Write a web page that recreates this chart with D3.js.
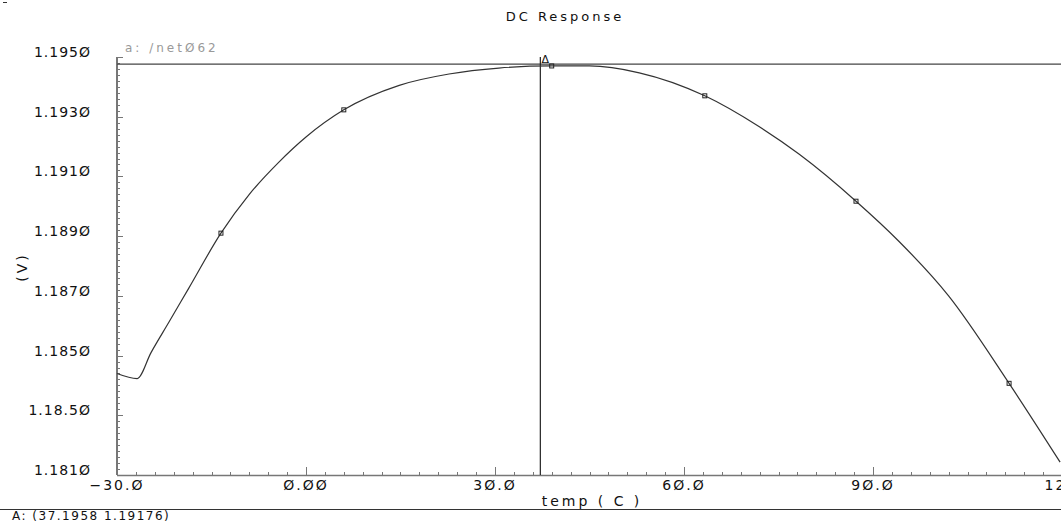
<!DOCTYPE html>
<html>
<head>
<meta charset="utf-8">
<script src="https://cdn.jsdelivr.net/npm/d3@7"></script>
<style>
  body { margin: 0; background: #fff; }
  text { font-family: "DejaVu Sans", sans-serif; fill: #111; }
</style>
</head>
<body>
<svg id="chart" width="1061" height="523"></svg>
<script>
// Curve: temperature (C) vs voltage (V)
let temps = [-30, -26.8, -24.6, -21.7, -18.6, -13.5, -9, -4.3, 0, 6, 14.8, 22.7, 30.6, 39, 45, 52.9, 63.3, 71.9, 78.3, 87.3, 94.1, 102, 111.6, 119.7];
let volts = [1.1844, 1.18423, 1.1851, 1.18614, 1.18726, 1.1891, 1.1904, 1.19148, 1.19232, 1.19323, 1.19405, 1.19443, 1.19463, 1.1947, 1.1947, 1.19447, 1.1937, 1.19267, 1.19174, 1.19017, 1.18883, 1.1870, 1.18407, 1.18143];

// Small square markers along the trace
let markerTemps = [-13.5, 6, 39, 63.3, 87.3, 111.6];
let markerVolts = [1.1891, 1.19323, 1.1947, 1.1937, 1.19017, 1.18407];

// Tick labels as printed (slashed zeros)
let yTicks = [1.1810, 1.1830, 1.1850, 1.1870, 1.1890, 1.1910, 1.1930, 1.1950];
let yTickLabels = ["1.181Ø", "1.18.5Ø", "1.185Ø", "1.187Ø", "1.189Ø", "1.191Ø", "1.193Ø", "1.195Ø"];
let xTicks = [-30, 0, 30, 60, 90, 120];
let xTickLabels = ["\u221230.Ø", "Ø.ØØ", "3Ø.Ø", "6Ø.Ø", "9Ø.Ø", "12Ø"];

// Cursor A
let cursorT = 37.1958, cursorV = 1.19476;

let svg = d3.select("#chart");

let x = d3.scaleLinear().domain([-30, 120]).range([117, 1062]);
let y = d3.scaleLinear().domain([1.1810, 1.1950]).range([475, 57]);

let axisColor = "#777";

// Y axis line and ticks
svg.append("line")
    .attr("x1", x(-30)).attr("x2", x(-30))
    .attr("y1", y(1.1950)).attr("y2", y(1.1810))
    .attr("stroke", axisColor).attr("stroke-width", 2);

let yMinor = d3.range(0, 71).map(i => 1.1810 + i * 0.0002);
svg.append("g").selectAll("line")
    .data(yMinor)
    .enter().append("line")
    .attr("x1", x(-30))
    .attr("x2", (d, i) => x(-30) + (i % 10 === 0 ? 6 : 3))
    .attr("y1", d => Math.round(y(d)) + 0.5)
    .attr("y2", d => Math.round(y(d)) + 0.5)
    .attr("stroke", axisColor).attr("stroke-width", 1);

svg.append("g").selectAll("text")
    .data(yTicks)
    .enter().append("text")
    .attr("x", 91)
    .attr("y", d => y(d))
    .attr("text-anchor", "end")
    .attr("font-size", 14)
    .attr("letter-spacing", 1)
    .text((d, i) => yTickLabels[i]);

// X axis line and ticks
svg.append("line")
    .attr("x1", x(-30)).attr("x2", 1061)
    .attr("y1", y(1.1810) + 0.5).attr("y2", y(1.1810) + 0.5)
    .attr("stroke", axisColor).attr("stroke-width", 1.5);

let xMinor = d3.range(0, 51).map(i => -30 + i * 3);
svg.append("g").selectAll("line")
    .data(xMinor)
    .enter().append("line")
    .attr("x1", d => Math.round(x(d)) + 0.5)
    .attr("x2", d => Math.round(x(d)) + 0.5)
    .attr("y1", y(1.1810))
    .attr("y2", (d, i) => y(1.1810) - (i % 10 === 0 ? 8 : 3))
    .attr("stroke", axisColor).attr("stroke-width", 1);

svg.append("g").selectAll("text")
    .data(xTicks)
    .enter().append("text")
    .attr("x", d => x(d))
    .attr("y", 490)
    .attr("text-anchor", "middle")
    .attr("font-size", 14)
    .attr("letter-spacing", 2)
    .text((d, i) => xTickLabels[i]);

// Cursor lines
svg.append("line")
    .attr("x1", x(-30)).attr("x2", 1061)
    .attr("y1", y(cursorV)).attr("y2", y(cursorV))
    .attr("stroke", "#444").attr("stroke-width", 1.2);
svg.append("line")
    .attr("x1", x(cursorT)).attr("x2", x(cursorT))
    .attr("y1", y(1.1950)).attr("y2", y(1.1810))
    .attr("stroke", "#222").attr("stroke-width", 1.2);
svg.append("text")
    .attr("x", x(cursorT) + 5).attr("y", y(cursorV) - 1)
    .attr("text-anchor", "middle")
    .attr("font-size", 11)
    .text("Δ");

// Trace
let line = d3.line()
    .x((d, i) => x(temps[i]))
    .y(d => y(d))
    .curve(d3.curveMonotoneX);
svg.append("path")
    .datum(volts)
    .attr("d", line)
    .attr("fill", "none")
    .attr("stroke", "#333")
    .attr("stroke-width", 1.2);

svg.append("g").selectAll("rect")
    .data(markerTemps)
    .enter().append("rect")
    .attr("x", d => x(d) - 2)
    .attr("y", (d, i) => y(markerVolts[i]) - 2)
    .attr("width", 4).attr("height", 4)
    .attr("fill", "none")
    .attr("stroke", "#222").attr("stroke-width", 1);

// Titles and labels
svg.append("text")
    .attr("x", 565).attr("y", 21)
    .attr("text-anchor", "middle")
    .attr("font-size", 13)
    .attr("letter-spacing", 3)
    .attr("fill", "#333")
    .text("DC Response");

svg.append("text")
    .attr("x", 125).attr("y", 52)
    .attr("font-size", 12)
    .attr("letter-spacing", 3)
    .style("fill", "#999")
    .text("a: /netØ62");

svg.append("text")
    .attr("transform", "translate(27,267) rotate(-90)")
    .attr("text-anchor", "middle")
    .attr("font-size", 14)
    .attr("letter-spacing", 3)
    .text("(V)");

svg.append("text")
    .attr("x", 592).attr("y", 506)
    .attr("text-anchor", "middle")
    .attr("font-size", 14)
    .attr("letter-spacing", 3)
    .text("temp ( C )");

// Bottom status line
svg.append("line")
    .attr("x1", 0).attr("x2", 1061)
    .attr("y1", 509.5).attr("y2", 509.5)
    .attr("stroke", "#333").attr("stroke-width", 1);
svg.append("text")
    .attr("x", 12).attr("y", 520)
    .attr("font-size", 12)
    .attr("letter-spacing", 1.5)
    .text("A: (37.1958 1.19176)");

svg.append("line")
    .attr("x1", 3).attr("x2", 7)
    .attr("y1", 2.5).attr("y2", 2.5)
    .attr("stroke", "#333");
</script>
</body>
</html>
